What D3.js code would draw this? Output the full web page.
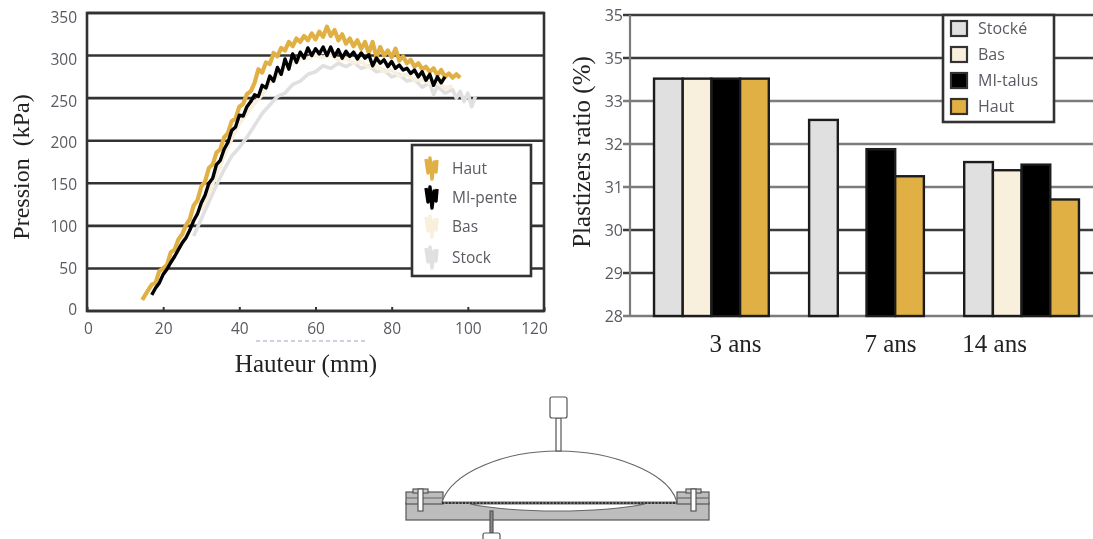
<!DOCTYPE html>
<html>
<head>
<meta charset="utf-8">
<script src="https://cdnjs.cloudflare.com/ajax/libs/d3/7.8.5/d3.min.js"></script>
<style>
  html, body { margin: 0; padding: 0; background: #fff; overflow: hidden; }
  svg { display: block; }
</style>
</head>
<body>
<div id="chart"></div>
<script>
// Left chart values
const hautH = [14.5,16,17,18,19,20,21,22,23,24,25,26,27,28,29,30,31,32,33,34,35,36,37,38,39,40,41,42,43,44,45,46,47,48,49,50,51,52,53,54,55,56,57,58,59,60,61,62,63,64,65,66,67,68,69,70,71,72,73,74,75,76,77,78,79,80,81,82,83,84,85,86,87,88,89,90,91,92,93,94,95,96,97,98]
const hautP = [13,24,31,33,47,50,54,69,72,84,90,101,108,124,130,146,152,168,172,186,190,204,209,223,226,240,243,255,258,268,284,280,292,290,303,299,309,306,316,311,320,316,323,318,326,319,328,322,334,323,330,318,325,314,320,311,318,308,316,303,316,298,310,300,306,298,308,294,299,291,295,287,291,284,287,281,285,277,283,275,279,274,278,274]

const miH = [17,18,19,20,21,22,23,24,25,26,27,28,29,30,31,32,33,34,35,36,37,38,39,40,41,42,43,44,45,46,47,48,49,50,51,52,53,54,55,56,57,58,59,60,61,62,63,64,65,66,67,68,69,70,71,72,73,74,75,76,77,78,79,80,81,82,83,84,85,86,87,88,89,90,91,92,93,94]
const miP = [19,27,33,43,49,57,64,72,80,86,95,106,114,127,136,150,156,172,177,190,198,212,216,230,229,240,246,254,252,265,262,276,270,286,278,296,284,302,292,304,297,309,300,308,302,310,300,310,299,307,297,305,299,304,296,303,297,301,288,297,291,295,287,293,285,289,283,285,279,283,275,281,271,278,265,275,268,275]

const basH = [30,32,34,36,38,40,42,44,46,48,50,52,54,56,58,60,62,64,66,68,70,72,74,76,78,80,82,84,86,88,90,92,94,96]
const basP = [118,138,160,182,202,220,232,244,254,268,276,286,290,296,297,300,298,301,295,297,291,293,286,288,281,283,276,278,271,272,267,268,262,264]

const stockH = [28,30,32,34,36,38,40,42,44,46,48,50,52,54,56,58,60,62,64,66,68,70,72,74,76,78,80,82,84,86,88,90,91,92,94,96,97,98,99,100,101,102]
const stockP = [88,108,128,148,166,182,192,204,218,232,242,252,256,266,270,278,281,288,285,291,287,292,285,288,281,283,275,278,270,272,263,268,254,264,256,260,250,258,246,256,240,252]

const pressionTicks = [0,50,100,150,200,250,300,350]
const hauteurTicks = [0,20,40,60,80,100,120]
const lineLegend = ['Haut','MI-pente','Bas','Stock']

// Right chart values
const ages = ['3 ans','7 ans','14 ans']
const barGroups = ['Stocké','Bas','MI-talus','Haut']
const stocke = [33.52,32.56,31.58]
const bas = [33.52,null,31.39]
const miTalus = [33.52,31.88,31.52]
const haut = [33.52,31.25,30.71]
const ratioTicks = [28,29,30,31,32,33,34,35]
const ratioLabels = ['28','29','30','31','32','33','35','35']

const colors = {haut:'#e0b044', mi:'#000000', bas:'#f9efdd', stock:'#e0e0e0'}
const serif = '"Liberation Serif"'
const sans = '"Open Sans"'
const labelGrey = '#5a5a62'

const svg = d3.select('#chart').append('svg')
  .attr('width', 1093)
  .attr('height', 539)

// soft blur, the reference is a low resolution scan
svg.append('defs').append('filter')
  .attr('id', 'soft')
  .attr('x', 0).attr('y', 0).attr('width', 1093).attr('height', 539)
  .attr('filterUnits', 'userSpaceOnUse')
  .append('feGaussianBlur').attr('stdDeviation', 0.75)

const root = svg.append('g').attr('filter', 'url(#soft)')
root.append('rect').attr('width', 1093).attr('height', 539).attr('fill', '#fff')

//---- Left chart
const xScale = d3.scaleLinear().domain([0, 120]).range([87, 544])
const yScale = d3.scaleLinear().domain([0, 350]).range([311, 13])
// the printed tick labels are a little tighter than the gridlines
const yLabelScale = d3.scaleLinear().domain([0, 350]).range([310, 17.5])

const left = root.append('g')

left.append('g').selectAll('line')
  .data(pressionTicks)
  .join('line')
  .attr('x1', 87).attr('x2', 544)
  .attr('y1', d => yScale(d)).attr('y2', d => yScale(d))
  .attr('stroke', '#333').attr('stroke-width', 2.6)

left.append('rect')
  .attr('x', 87).attr('y', 13).attr('width', 457).attr('height', 298)
  .attr('fill', 'none').attr('stroke', '#333').attr('stroke-width', 2.6)

const yAxisL = left.append('g')
  .attr('transform', 'translate(87,0)')
  .call(d3.axisLeft(yScale).tickValues(pressionTicks).tickSize(0).tickPadding(10))
yAxisL.select('.domain').remove()
yAxisL.selectAll('text')
  .attr('font-family', sans).attr('font-size', '15.5px').attr('fill', labelGrey)
  .attr('y', d => yLabelScale(d) - yScale(d))

const xAxisL = left.append('g')
  .attr('transform', 'translate(0,311)')
  .call(d3.axisBottom(xScale).tickValues(hauteurTicks).tickSize(-4).tickPadding(12))
xAxisL.select('.domain').remove()
xAxisL.selectAll('line').attr('stroke', '#333').attr('stroke-width', 2)
xAxisL.selectAll('text')
  .attr('font-family', sans).attr('font-size', '15.5px').attr('fill', labelGrey)
xAxisL.selectAll('text').filter(d => d == 120).attr('dx', -10)
xAxisL.selectAll('text').filter(d => d == 0).attr('dx', 1)

const line = d3.line().x(d => xScale(d[0])).y(d => yScale(d[1]))
const lineSeries = [
  {h: stockH, p: stockP, color: colors.stock, w: 3.6},
  {h: basH, p: basP, color: colors.bas, w: 3.8},
  {h: hautH, p: hautP, color: colors.haut, w: 4.2},
  {h: miH, p: miP, color: colors.mi, w: 3.4}
]
left.append('g').selectAll('path')
  .data(lineSeries)
  .join('path')
  .attr('d', d => line(d3.zip(d.h, d.p)))
  .attr('fill', 'none')
  .attr('stroke', d => d.color)
  .attr('stroke-width', d => d.w)
  .attr('stroke-linejoin', 'round')

// legend
left.append('rect')
  .attr('x', 412).attr('y', 145).attr('width', 119).attr('height', 131)
  .attr('fill', '#fff').attr('stroke', '#333').attr('stroke-width', 2.6)

const legendRows = [168, 197, 226, 257]
const legendColors = [colors.haut, colors.mi, colors.bas, colors.stock]
const legendScribble = 'M-5,-9 L-3,5 L-1,-10 L1,11 L3,-6 L5,4 L6,-8'
lineLegend.forEach((name, i) => {
  left.append('path')
    .attr('d', legendScribble)
    .attr('transform', `translate(431,${legendRows[i]})`)
    .attr('fill', 'none')
    .attr('stroke', legendColors[i])
    .attr('stroke-width', 3.4)
    .attr('stroke-linejoin', 'round')
  left.append('text')
    .attr('x', 452).attr('y', legendRows[i] + 6)
    .attr('font-family', sans).attr('font-size', '15.5px').attr('fill', labelGrey)
    .text(name)
})

left.append('text')
  .attr('transform', 'translate(29,167) rotate(-90)')
  .attr('text-anchor', 'middle')
  .attr('font-family', serif).attr('font-size', '24px').attr('fill', '#222')
  .attr('xml:space', 'preserve')
  .text('Pression  (kPa)')

left.append('text')
  .attr('x', 306).attr('y', 372)
  .attr('text-anchor', 'middle')
  .attr('font-family', serif).attr('font-size', '25px').attr('fill', '#222')
  .text('Hauteur (mm)')

// scrap of the old axis title left under the tick labels
left.append('line')
  .attr('x1', 256).attr('x2', 366).attr('y1', 341).attr('y2', 341)
  .attr('stroke', '#9aa4c0').attr('stroke-width', 1.2).attr('stroke-dasharray', '4 3')

//---- Right chart
const ratioScale = d3.scaleLinear().domain([28, 35]).range([316, 15])
const ageScale = d3.scaleBand().domain(ages).range([630, 1103]).paddingInner(0.26).paddingOuter(0.155)
const groupScale = d3.scaleBand().domain(barGroups).range([0, ageScale.bandwidth()])

const right = root.append('g')
const darkRatio = [29, 30, 34, 35]

right.append('g').selectAll('line')
  .data(ratioTicks)
  .join('line')
  .attr('x1', 623).attr('x2', 1093)
  .attr('y1', d => ratioScale(d)).attr('y2', d => ratioScale(d))
  .attr('stroke', d => darkRatio.includes(d) ? '#3a3a3a' : '#7c7c7c')
  .attr('stroke-width', 2.4)

right.append('line')
  .attr('x1', 630).attr('x2', 630).attr('y1', 15).attr('y2', 316)
  .attr('stroke', '#7c7c7c').attr('stroke-width', 2.2)

const yAxisR = right.append('g')
  .attr('transform', 'translate(630,0)')
  .call(d3.axisLeft(ratioScale).tickValues(ratioTicks).tickSize(0).tickPadding(7)
    .tickFormat((d, i) => ratioLabels[i]))
yAxisR.select('.domain').remove()
yAxisR.selectAll('text')
  .attr('font-family', sans).attr('font-size', '16px').attr('fill', labelGrey)

const barValues = [stocke, bas, miTalus, haut]
const barColors = [colors.stock, colors.bas, colors.mi, colors.haut]
barGroups.forEach((name, i) => {
  right.append('g').selectAll('rect')
    .data(barValues[i].map((v, j) => ({age: ages[j], v: v})).filter(d => d.v !== null))
    .join('rect')
    .attr('x', d => ageScale(d.age) + groupScale(name))
    .attr('y', d => ratioScale(d.v))
    .attr('width', groupScale.bandwidth())
    .attr('height', d => ratioScale(28) - ratioScale(d.v))
    .attr('fill', barColors[i])
    .attr('stroke', '#1e1e1e')
    .attr('stroke-width', 2.4)
})

// age labels sit off centre of their groups in the picture
const ageNudge = [24, 24, -27]
const xAxisR = right.append('g')
  .attr('transform', 'translate(0,316)')
  .call(d3.axisBottom(ageScale).tickSize(0).tickPadding(18))
xAxisR.select('.domain').remove()
xAxisR.selectAll('text')
  .attr('font-family', serif).attr('font-size', '25px').attr('fill', '#222')
  .attr('dx', (d, i) => ageNudge[i])

right.append('text')
  .attr('transform', 'translate(590,152) rotate(-90)')
  .attr('text-anchor', 'middle')
  .attr('font-family', serif).attr('font-size', '25px').attr('fill', '#222')
  .text('Plastizers ratio (%)')

right.append('rect')
  .attr('x', 943).attr('y', 15).attr('width', 111).attr('height', 107)
  .attr('fill', '#fff').attr('stroke', '#333').attr('stroke-width', 2.6)

barGroups.forEach((name, i) => {
  right.append('rect')
    .attr('x', 951).attr('y', 21 + i * 26).attr('width', 16).attr('height', 15)
    .attr('fill', barColors[i]).attr('stroke', '#333').attr('stroke-width', 2.2)
  right.append('text')
    .attr('x', 978).attr('y', 34 + i * 26)
    .attr('font-family', sans).attr('font-size', '16px').attr('fill', labelGrey)
    .text(name)
})

//---- Bulge test schematic at the bottom
const rig = root.append('g').attr('stroke', '#555').attr('stroke-width', 1.2)

rig.append('rect').attr('x', 406).attr('y', 503).attr('width', 303).attr('height', 17).attr('fill', '#bdbdbd')
rig.append('rect').attr('x', 406).attr('y', 492).attr('width', 37).attr('height', 12).attr('fill', '#bdbdbd')
rig.append('rect').attr('x', 677).attr('y', 492).attr('width', 32).attr('height', 12).attr('fill', '#bdbdbd')
rig.append('line').attr('x1', 406).attr('x2', 442).attr('y1', 498).attr('y2', 498).attr('stroke', '#666')
rig.append('line').attr('x1', 677).attr('x2', 709).attr('y1', 498).attr('y2', 498).attr('stroke', '#666')

// nuts and bolts
;[420, 693].forEach(x => {
  rig.append('rect').attr('x', x - 7).attr('y', 489).attr('width', 15).attr('height', 4).attr('fill', '#ccc')
  rig.append('rect').attr('x', x - 2).attr('y', 489).attr('width', 5).attr('height', 22).attr('fill', '#fff')
})

// the bulging membrane and the hollow under it
rig.append('path')
  .attr('d', 'M442,502 C452,472 505,451 558,451 C612,451 668,472 677,502 Z')
  .attr('fill', '#fff').attr('stroke', '#666')
rig.append('path')
  .attr('d', 'M470,504 C500,510 530,511 557,511 C585,511 620,509 645,504 Z')
  .attr('fill', '#fff').attr('stroke', '#666')
rig.append('line')
  .attr('x1', 442).attr('x2', 677).attr('y1', 503).attr('y2', 503)
  .attr('stroke', '#333').attr('stroke-width', 2).attr('stroke-dasharray', '2 1.5')

// sensors
rig.append('rect').attr('x', 556).attr('y', 418).attr('width', 5).attr('height', 33).attr('fill', '#fff')
rig.append('rect').attr('x', 550).attr('y', 397).attr('width', 17).attr('height', 21).attr('rx', 2).attr('fill', '#fff')
rig.append('rect').attr('x', 490).attr('y', 511).attr('width', 3).attr('height', 22).attr('fill', '#888')
rig.append('rect').attr('x', 483).attr('y', 533).attr('width', 17).attr('height', 10).attr('rx', 2).attr('fill', '#fff')
</script>
</body>
</html>
